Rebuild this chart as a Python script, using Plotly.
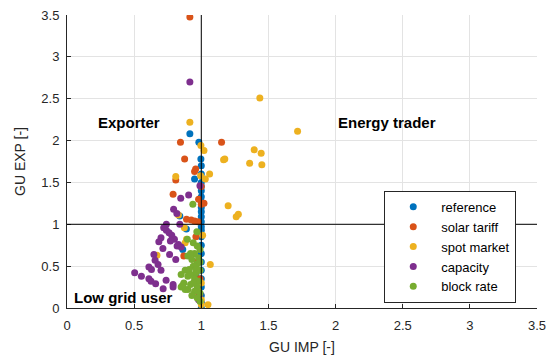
import plotly.graph_objects as go

names = ["reference", "solar tariff", "spot market", "capacity", "block rate"]
colors = ["#0072BD", "#D95319", "#EDB120", "#7E2F8E", "#77AC30"]

ref_x = [0.915, 0.982, 0.997, 1.0, 1.0, 1.0, 1.0, 1.0, 1.0, 1.0, 1.0, 1.0, 1.0, 1.0, 1.0, 1.0, 1.0,
         1.0, 1.0, 1.0, 1.0, 1.0, 1.0, 1.0, 1.0, 1.0, 0.95, 0.889, 0.862, 0.84, 0.96]
ref_y = [2.08, 1.98, 1.78, 1.70, 1.60, 1.50, 1.45, 1.40, 1.33, 1.27, 1.20, 1.15, 1.09, 1.03, 0.97,
         0.93, 0.85, 0.75, 0.65, 0.55, 0.45, 0.35, 0.25, 0.15, 0.07, 0.0, 1.54, 0.945, 0.70, 1.10, 0.40]

sol_x = [0.915, 0.845, 1.151, 0.876, 0.958, 0.95, 0.81, 0.79, 1.02, 1.0, 0.89, 0.925, 0.95, 0.975,
         1.0, 0.98, 0.87, 0.97, 0.99, 0.98, 0.96]
sol_y = [3.475, 1.98, 1.98, 1.78, 1.66, 1.63, 1.53, 1.36, 1.25, 1.24, 1.06, 1.05, 1.04, 1.03,
         1.45, 1.30, 0.62, 0.55, 0.35, 0.15, 0.85]

spot_x = [0.915, 1.436, 1.717, 0.997, 1.02, 1.394, 1.446, 1.166, 1.175, 1.36, 1.451, 0.995, 1.03,
          1.062, 0.81, 1.2, 1.26, 1.276, 0.83, 0.874, 0.67, 1.067, 1.05, 1.0, 0.89, 0.88, 1.01,
          1.0, 0.98, 1.0]
spot_y = [2.22, 2.51, 2.11, 1.94, 1.88, 1.89, 1.85, 1.77, 1.78, 1.73, 1.71, 1.58, 1.54,
          1.60, 1.57, 1.22, 1.09, 1.12, 1.11, 0.96, 0.63, 0.52, 0.04, 0.04, 0.82, 0.78, 0.87,
          0.30, 0.20, 0.10]

cap_x = [0.915, 0.99, 0.847, 0.906, 0.794, 0.818, 0.74, 0.84, 0.70, 0.684, 0.74, 0.78, 0.80, 0.82,
         0.85, 0.714, 0.647, 0.764, 0.656, 0.678, 0.81, 0.61, 0.629, 0.70, 0.504, 0.554, 0.61,
         0.626, 0.66, 0.738, 0.716, 0.79, 0.79, 0.76, 0.72, 0.77, 0.83, 0.99, 0.98]
cap_y = [2.70, 1.46, 1.31, 1.35, 1.18, 1.13, 1.0, 1.0, 0.84, 0.79, 0.93, 0.87, 0.82, 0.74,
         0.73, 0.71, 0.64, 0.64, 0.57, 0.52, 0.58, 0.49, 0.46, 0.45, 0.42, 0.38, 0.35,
         0.32, 0.29, 0.33, 0.23, 0.28, 0.25, 0.90, 0.96, 0.80, 0.76, 0.17, 0.10]

blk_x = [0.937, 0.967, 0.896, 0.94, 0.97, 0.99, 0.95, 0.90, 0.93, 0.98, 0.97, 0.94, 0.88, 0.91,
         0.96, 0.99, 0.85, 0.90, 0.95, 0.98, 0.87, 0.92, 0.97, 0.85, 0.90, 0.95, 0.99, 0.93,
         0.97, 0.99, 0.96, 0.92, 0.99, 0.92, 0.94, 0.88, 0.86]
blk_y = [1.24, 0.91, 0.82, 0.78, 0.74, 0.70, 0.65, 0.62, 0.58, 0.60, 0.53, 0.50, 0.45, 0.46,
         0.42, 0.45, 0.40, 0.38, 0.35, 0.32, 0.30, 0.28, 0.25, 0.25, 0.22, 0.20, 0.18, 0.15,
         0.12, 0.08, 0.46, 0.65, 0.55, 0.40, 0.30, 0.22, 0.27]

series_x = [ref_x, sol_x, spot_x, cap_x, blk_x]
series_y = [ref_y, sol_y, spot_y, cap_y, blk_y]

x_ticks = [0, 0.5, 1, 1.5, 2, 2.5, 3, 3.5]
y_ticks = [0, 0.5, 1, 1.5, 2, 2.5, 3, 3.5]

fig = go.Figure()
for n, c, xs, ys in zip(names, colors, series_x, series_y):
    fig.add_trace(go.Scatter(x=xs, y=ys, mode="markers", name=n,
                             marker=dict(color=c, size=7, line=dict(width=0))))

fig.add_shape(type="line", x0=1, x1=1, y0=0, y1=3.5, line=dict(color="black", width=1), layer="above")
fig.add_shape(type="line", x0=0, x1=3.5, y0=1, y1=1, line=dict(color="black", width=1), layer="above")

fnt = "Liberation Sans"
for txt, x, y in [("Exporter", 0.46, 2.22), ("Energy trader", 2.38, 2.22), ("Low grid user", 0.42, 0.13)]:
    fig.add_annotation(x=x, y=y, text="<b>" + txt + "</b>", showarrow=False,
                       font=dict(family=fnt, size=15, color="black"))

axis_common = dict(showgrid=True, gridcolor="#e3e3e3", gridwidth=1, zeroline=False,
                   showline=True, linecolor="#262626", linewidth=1, ticks="inside",
                   ticklen=4, tickcolor="#262626", mirror=False, automargin=False,
                   tickfont=dict(family=fnt, size=13, color="#262626"))

fig.update_xaxes(range=[0, 3.5], tickvals=x_ticks, ticktext=[f"{v:g}" for v in x_ticks],
                 ticklabelstandoff=5,
                 title=dict(text="GU IMP [-]", font=dict(family=fnt, size=14, color="#262626"), standoff=10),
                 **axis_common)
fig.update_yaxes(range=[0, 3.5], tickvals=y_ticks, ticktext=[f"{v:g}" for v in y_ticks],
                 ticklabelstandoff=4,
                 title=dict(text="GU EXP [-]", font=dict(family=fnt, size=14, color="#262626"), standoff=12),
                 **axis_common)

fig.update_layout(
    width=553, height=358,
    margin=dict(l=67, r=16, t=15, b=50),
    plot_bgcolor="white", paper_bgcolor="white",
    font=dict(family=fnt, color="#262626"),
    legend=dict(x=0.675, y=0.40, xanchor="left", yanchor="top",
                bgcolor="white", bordercolor="#262626", borderwidth=1,
                font=dict(family=fnt, size=13, color="black"),
                itemwidth=46),
)

fig.write_html("out.html")
